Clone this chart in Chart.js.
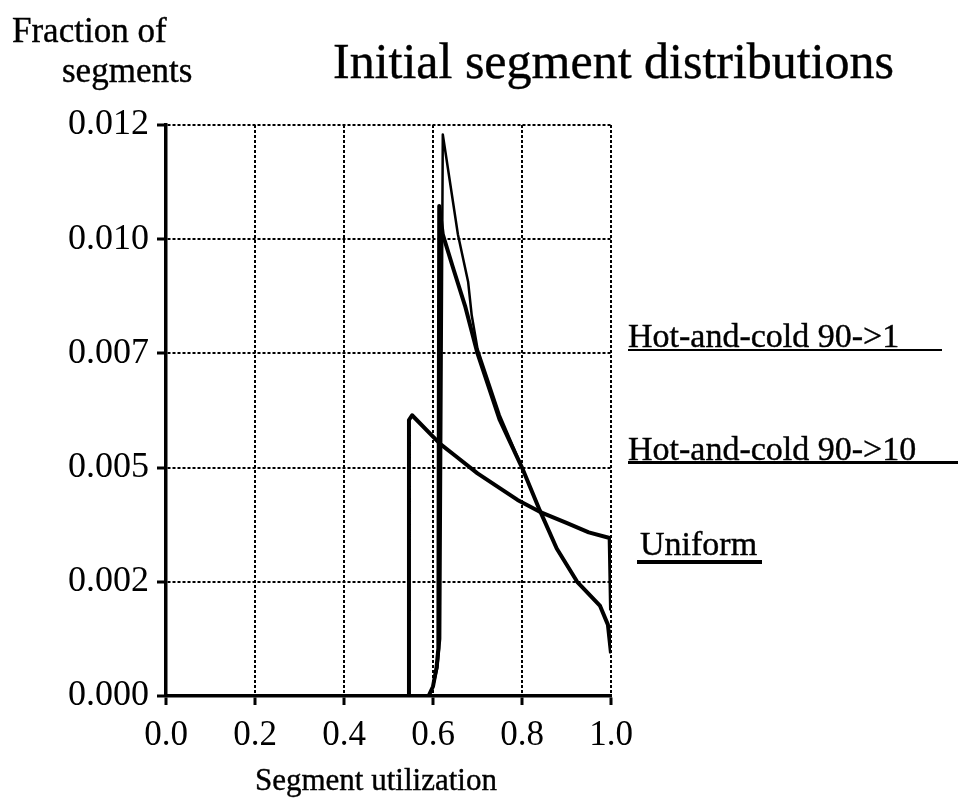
<!DOCTYPE html>
<html>
<head>
<meta charset="utf-8">
<script src="https://cdn.jsdelivr.net/npm/chart.js@4/dist/chart.umd.min.js"></script>
<style>
  body { margin:0; background:#fff; }
  #wrap { position:relative; width:958px; height:801px; }
  #chart { position:absolute; left:0; top:0; }
  .lbl { position:absolute; font-family:"Liberation Serif", "Times New Roman", serif; color:#000; line-height:1; white-space:nowrap; -webkit-text-stroke:0.4px #000; }
  .rule { position:absolute; background:#000; }
</style>
</head>
<body>
<div id="wrap">
  <canvas id="chart" width="958" height="801"></canvas>
  <div class="lbl" style="left:12px; top:13px; font-size:35px;">Fraction of</div>
  <div class="lbl" style="left:62px; top:53px; font-size:35px;">segments</div>
  <div class="lbl" style="left:333px; top:36px; font-size:50px;">Initial segment distributions</div>
  <div class="lbl" style="left:255px; top:764px; font-size:31px;">Segment utilization</div>

  <div class="lbl" style="left:628px; top:319px; font-size:34px;">Hot-and-cold 90-&gt;1</div>
  <div class="rule" style="left:628px; top:349px; width:314px; height:2px;"></div>
  <div class="lbl" style="left:628px; top:432px; font-size:34px;">Hot-and-cold 90-&gt;10</div>
  <div class="rule" style="left:628px; top:461px; width:330px; height:3px;"></div>
  <div class="lbl" style="left:640px; top:527px; font-size:34px;">Uniform</div>
  <div class="rule" style="left:637px; top:560px; width:125px; height:4px;"></div>
</div>
<script>
// values
const uniformX = [0.0, 0.544, 0.546, 0.553, 0.60, 0.616, 0.65, 0.70, 0.75, 0.79, 0.84, 0.90, 0.95, 0.997, 1.0];
const uniformY = [0, 0, 0.0058, 0.0059, 0.00545, 0.0053, 0.00505, 0.00468, 0.00437, 0.00412, 0.00387, 0.00364, 0.00344, 0.00332, 0.0018];

const hot10X = [0.0, 0.59, 0.60, 0.608, 0.612, 0.614, 0.622, 0.645, 0.672, 0.70, 0.75, 0.80, 0.84, 0.878, 0.924, 0.975, 0.993, 1.0];
const hot10Y = [0, 0, 0.0002, 0.0006, 0.0010, 0.0103, 0.0097, 0.0090, 0.0082, 0.0072, 0.0058, 0.0048, 0.0039, 0.0031, 0.0024, 0.0019, 0.0015, 0.0009];

const hot1X = [0.0, 0.59, 0.60, 0.61, 0.616, 0.622, 0.656, 0.679, 0.687, 0.70, 0.75, 0.80, 0.84, 0.878, 0.924, 0.975, 0.993, 1.0];
const hot1Y = [0, 0, 0.0002, 0.0006, 0.0012, 0.0118, 0.0097, 0.0087, 0.0080, 0.0073, 0.0059, 0.0048, 0.0039, 0.0031, 0.0024, 0.0019, 0.0015, 0.0009];

const xTicks = [0.0, 0.2, 0.4, 0.6, 0.8, 1.0];
const yTicks = [0.0, 0.0024, 0.0048, 0.0072, 0.0096, 0.012];

function pts(xs, ys) {
  return xs.map((x, i) => ({ x: x, y: ys[i] }));
}

const serif = '"Liberation Serif", "Times New Roman", serif';

function axisOpts(extra) {
  return Object.assign({
    type: 'linear',
    grid: {
      color: '#000',
      lineWidth: 2,
      tickLength: 9,
      tickWidth: 3,
      tickColor: '#000',
      tickBorderDash: []
    },
    border: { display: true, color: '#000', width: 3.5, dash: [3, 2] }
  }, extra);
}

const ctx = document.getElementById('chart').getContext('2d');
new Chart(ctx, {
  type: 'scatter',
  data: {
    datasets: [
      { label: 'Hot-and-cold 90->1', data: pts(hot1X, hot1Y), borderWidth: 2.5 },
      { label: 'Hot-and-cold 90->10', data: pts(hot10X, hot10Y), borderWidth: 4 },
      { label: 'Uniform', data: pts(uniformX, uniformY), borderWidth: 4 }
    ].map(d => Object.assign(d, {
      showLine: true, borderColor: '#000', backgroundColor: '#000',
      pointRadius: 0, tension: 0, fill: false, borderJoinStyle: 'round'
    }))
  },
  options: {
    responsive: false,
    animation: false,
    layout: { padding: { left: 0, top: 125, right: 347, bottom: 0 } },
    plugins: { legend: { display: false }, tooltip: { enabled: false }, title: { display: false } },
    scales: {
      x: axisOpts({
        min: 0, max: 1,
        afterFit: s => { s.height = 105; },
        afterBuildTicks: s => { s.ticks = xTicks.map(v => ({ value: v })); },
        ticks: { color: '#000', padding: 10, font: { family: serif, size: 35 }, callback: v => v.toFixed(1) }
      }),
      y: axisOpts({
        min: 0, max: 0.012,
        afterFit: s => { s.width = 166; },
        afterBuildTicks: s => { s.ticks = yTicks.map(v => ({ value: v })); },
        ticks: { color: '#000', padding: 8, font: { family: serif, size: 36 }, callback: v => v.toFixed(3) }
      })
    }
  }
});
</script>
</body>
</html>
